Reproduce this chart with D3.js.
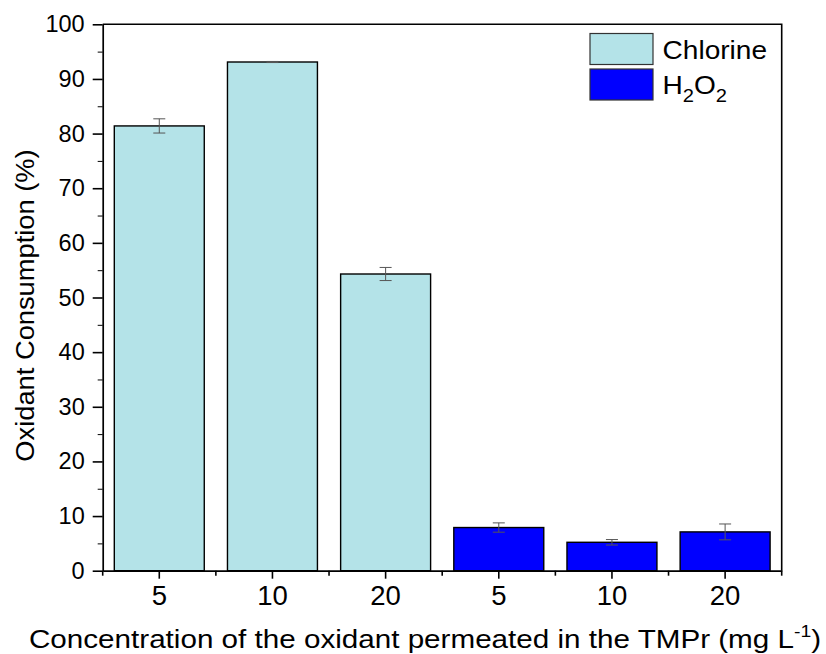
<!DOCTYPE html>
<html>
<head>
<meta charset="utf-8">
<script src="https://cdn.jsdelivr.net/npm/d3@7"></script>
<style>
body { margin: 0; background: #fff; }
svg text { font-family: Arial, "Liberation Sans", sans-serif; fill: #000; }
</style>
</head>
<body>
<div id="chart"></div>
<script>
// data
var concentrations = ["5", "10", "20"];
var oxidants = ["Chlorine", "H2O2"];
var chlorineValues = [81.4, 93.1, 54.3];
var chlorineErrors = [1.3, 0.1, 1.2];
var h2o2Values = [7.9, 5.2, 7.1];
var h2o2Errors = [0.85, 0.5, 1.45];
var yTicks = [0, 10, 20, 30, 40, 50, 60, 70, 80, 90, 100];
var yMinorTicks = [5, 15, 25, 35, 45, 55, 65, 75, 85, 95];

var svgWidth = 826;
var svgHeight = 654;
var margin = {top: 24.3, right: 44.3, bottom: 83.3, left: 102.7};
var width = svgWidth - margin.left - margin.right;
var height = svgHeight - margin.top - margin.bottom;

var colors = {"Chlorine": "#b4e3e8", "H2O2": "#0000ff"};

// one row per bar
var rows = [];
concentrations.forEach(function(c, i) {
    rows.push({key: "Chlorine-" + c, oxidant: "Chlorine", conc: c, value: chlorineValues[i], err: chlorineErrors[i]});
});
concentrations.forEach(function(c, i) {
    rows.push({key: "H2O2-" + c, oxidant: "H2O2", conc: c, value: h2o2Values[i], err: h2o2Errors[i]});
});

var svg = d3.select("#chart")
    .append("svg")
    .attr("width", svgWidth)
    .attr("height", svgHeight);

var chartGroup = svg.append("g")
    .attr("transform", `translate(${margin.left}, ${margin.top})`);

var xScale = d3.scaleBand()
    .domain(rows.map(d => d.key))
    .range([0, width])
    .paddingInner(0.205)
    .paddingOuter(0.1025);

var yScale = d3.scaleLinear()
    .domain([0, 100])
    .range([height, 0]);

// bars
chartGroup.selectAll("rect.bar")
    .data(rows)
    .enter()
    .append("rect")
    .attr("class", "bar")
    .attr("x", d => xScale(d.key))
    .attr("y", d => yScale(d.value))
    .attr("width", xScale.bandwidth())
    .attr("height", d => height - yScale(d.value))
    .attr("fill", d => colors[d.oxidant])
    .attr("stroke", "#000")
    .attr("stroke-width", 1.4);

// error bars
var cap = 6;
var errG = chartGroup.selectAll("g.err")
    .data(rows)
    .enter()
    .append("g")
    .attr("class", "err")
    .attr("stroke", "#555")
    .attr("stroke-width", 1);
errG.append("line")
    .attr("x1", d => xScale(d.key) + xScale.bandwidth() / 2)
    .attr("x2", d => xScale(d.key) + xScale.bandwidth() / 2)
    .attr("y1", d => yScale(d.value + d.err))
    .attr("y2", d => yScale(d.value - d.err));
errG.append("line")
    .attr("x1", d => xScale(d.key) + xScale.bandwidth() / 2 - cap)
    .attr("x2", d => xScale(d.key) + xScale.bandwidth() / 2 + cap)
    .attr("y1", d => yScale(d.value + d.err))
    .attr("y2", d => yScale(d.value + d.err));
errG.append("line")
    .attr("x1", d => xScale(d.key) + xScale.bandwidth() / 2 - cap)
    .attr("x2", d => xScale(d.key) + xScale.bandwidth() / 2 + cap)
    .attr("y1", d => yScale(d.value - d.err))
    .attr("y2", d => yScale(d.value - d.err));

// frame top + right
chartGroup.append("path")
    .attr("d", `M0,${yScale(100)}H${width}V${height}`)
    .attr("fill", "none")
    .attr("stroke", "#000")
    .attr("stroke-width", 1.6);

// y axis
var yAxis = d3.axisLeft(yScale).tickValues(yTicks).tickSize(10).tickPadding(8).tickSizeOuter(0);
var yG = chartGroup.append("g").call(yAxis);
yG.selectAll("text").attr("font-size", null).style("font-size", "23.5px");
chartGroup.append("g")
    .call(d3.axisLeft(yScale).tickValues(yMinorTicks).tickSize(5).tickFormat("").tickSizeOuter(0))
    .select(".domain").remove();

// x axis
var xAxis = d3.axisBottom(xScale)
    .tickSize(8)
    .tickPadding(7)
    .tickSizeOuter(0)
    .tickFormat(k => rows.find(r => r.key === k).conc);
var xG = chartGroup.append("g")
    .attr("transform", `translate(0, ${height})`)
    .call(xAxis);
xG.selectAll("text").style("font-size", "27.5px");

// minor x ticks at category boundaries
var bounds = rows.map(d => xScale(d.key) - xScale.step() * xScale.paddingInner() / 2);
bounds.push(width);
chartGroup.append("g")
    .selectAll("line")
    .data(bounds)
    .enter()
    .append("line")
    .attr("x1", d => d).attr("x2", d => d)
    .attr("y1", height).attr("y2", height + 5)
    .attr("stroke", "#000")
    .attr("stroke-width", 1.6);

[yG, xG].forEach(function(g) {
    g.select(".domain").attr("stroke-width", 1.7);
    g.selectAll(".tick line").attr("stroke-width", 1.6);
});

// axis titles
svg.append("text")
    .attr("transform", `translate(34, ${margin.top + height / 2 + 8}) rotate(-90) scale(1.05, 1)`)
    .style("text-anchor", "middle")
    .style("font-size", "26px")
    .text("Oxidant Consumption (%)");

var xTitle = svg.append("text")
    .attr("transform", `translate(425, 648) scale(1.14, 1)`)
    .style("text-anchor", "middle")
    .style("font-size", "26px");
xTitle.append("tspan").text("Concentration of the oxidant permeated in the TMPr (mg L");
xTitle.append("tspan").attr("dy", -11).style("font-size", "17px").text("-1");
xTitle.append("tspan").attr("dy", 11).text(")");

// legend
var legend = svg.append("g");
var legendRows = legend.selectAll("g")
    .data(oxidants)
    .enter()
    .append("g")
    .attr("transform", (d, i) => `translate(590, ${33.5 + i * 35.5})`);
legendRows.append("rect")
    .attr("width", 63)
    .attr("height", 31)
    .attr("fill", d => colors[d])
    .attr("stroke", "#333")
    .attr("stroke-width", 1.2);
var legendText = legendRows.append("text")
    .attr("transform", "translate(72.5, 25) scale(1.06, 1)")
    .style("font-size", "26.5px");
legendText.filter(d => d === "Chlorine").text("Chlorine");
var h2 = legendText.filter(d => d === "H2O2");
h2.append("tspan").text("H");
h2.append("tspan").attr("dy", 8).style("font-size", "19px").text("2");
h2.append("tspan").attr("dy", -8).text("O");
h2.append("tspan").attr("dy", 8).style("font-size", "19px").text("2");
</script>
</body>
</html>
